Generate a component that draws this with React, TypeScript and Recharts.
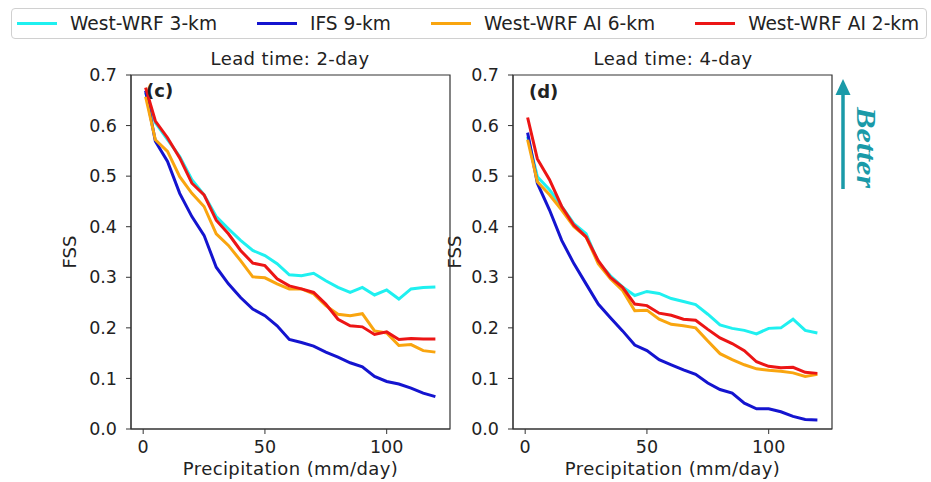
import React from 'react';
import { LineChart, Line, XAxis, YAxis, ReferenceArea } from 'recharts';

// precipitation thresholds (mm/day)
const precip = [1, 5, 10, 15, 20, 25, 30, 35, 40, 45, 50, 55, 60, 65, 70, 75, 80, 85, 90, 95, 100, 105, 110, 115, 120];

// lead time 2-day
const wrf3km2d = [0.665, 0.606, 0.572, 0.539, 0.493, 0.463, 0.42, 0.396, 0.373, 0.353, 0.343, 0.327, 0.305, 0.303, 0.308, 0.293, 0.28, 0.27, 0.28, 0.265, 0.275, 0.257, 0.277, 0.28, 0.281];
const ifs9km2d = [0.669, 0.569, 0.529, 0.466, 0.42, 0.383, 0.32, 0.287, 0.26, 0.237, 0.224, 0.204, 0.177, 0.171, 0.164, 0.152, 0.142, 0.131, 0.123, 0.104, 0.094, 0.089, 0.081, 0.071, 0.064];
const ai6km2d = [0.657, 0.572, 0.549, 0.499, 0.466, 0.44, 0.386, 0.363, 0.333, 0.301, 0.299, 0.287, 0.277, 0.277, 0.267, 0.244, 0.227, 0.224, 0.228, 0.194, 0.19, 0.165, 0.167, 0.155, 0.152];
const ai2km2d = [0.675, 0.609, 0.576, 0.536, 0.486, 0.463, 0.413, 0.386, 0.353, 0.328, 0.323, 0.297, 0.283, 0.277, 0.27, 0.247, 0.217, 0.204, 0.202, 0.187, 0.192, 0.177, 0.179, 0.178, 0.178];

// lead time 4-day
const wrf3km4d = [0.578, 0.499, 0.473, 0.44, 0.406, 0.386, 0.33, 0.303, 0.281, 0.264, 0.272, 0.268, 0.258, 0.252, 0.246, 0.227, 0.206, 0.199, 0.195, 0.188, 0.199, 0.2, 0.217, 0.195, 0.19];
const ifs9km4d = [0.586, 0.486, 0.433, 0.373, 0.327, 0.287, 0.247, 0.22, 0.194, 0.166, 0.155, 0.137, 0.127, 0.117, 0.108, 0.091, 0.078, 0.071, 0.051, 0.04, 0.04, 0.034, 0.025, 0.019, 0.018];
const ai6km4d = [0.572, 0.489, 0.463, 0.433, 0.4, 0.38, 0.327, 0.297, 0.274, 0.234, 0.235, 0.217, 0.207, 0.204, 0.2, 0.174, 0.149, 0.137, 0.127, 0.119, 0.116, 0.114, 0.111, 0.104, 0.108];
const ai2km4d = [0.616, 0.534, 0.493, 0.44, 0.403, 0.38, 0.333, 0.3, 0.28, 0.247, 0.244, 0.229, 0.225, 0.217, 0.215, 0.197, 0.18, 0.169, 0.155, 0.133, 0.124, 0.121, 0.122, 0.112, 0.11];

const yTicks = [0, 0.1, 0.2, 0.3, 0.4, 0.5, 0.6, 0.7];
const xTicks = [0, 50, 100];

const seriesNames = ['West-WRF 3-km', 'IFS 9-km', 'West-WRF AI 6-km', 'West-WRF AI 2-km'];
const seriesKeys = ['wrf3', 'ifs9', 'ai6', 'ai2'];
const colors = ['#1ff0f0', '#1414cf', '#f9a50f', '#ec1515'];

const FONT = '"DejaVu Sans", sans-serif';
const INK = '#222';

const buildRows = (a: number[], b: number[], c: number[], d: number[]) =>
    precip.map((p, i) => ({ p, wrf3: a[i], ifs9: b[i], ai6: c[i], ai2: d[i] }));

const rows2d = buildRows(wrf3km2d, ifs9km2d, ai6km2d, ai2km2d);
const rows4d = buildRows(wrf3km4d, ifs9km4d, ai6km4d, ai2km4d);

type PanelProps = { data: any[]; width: number; yAxisWidth: number; marginLeft: number; marginRight: number };

const Panel = ({ data, width, yAxisWidth, marginLeft, marginRight }: PanelProps) => (
    <LineChart
        width={width}
        height={482}
        data={data}
        margin={{ top: 75, right: marginRight, bottom: 0, left: marginLeft }}
        style={{ fontFamily: FONT }}
    >
        <XAxis
            dataKey="p"
            type="number"
            domain={[-5, 126]}
            ticks={xTicks}
            allowDataOverflow
            height={53}
            tickSize={5}
            tickMargin={7}
            axisLine={{ stroke: '#333' }}
            tickLine={{ stroke: '#333' }}
            tick={{ fontSize: 17.5, fill: INK }}
            label={{ value: 'Precipitation (mm/day)', position: 'insideBottom', offset: 7, fontSize: 18, letterSpacing: 0.4, fill: INK }}
        />
        <YAxis
            type="number"
            domain={[0, 0.7]}
            ticks={yTicks}
            allowDataOverflow
            width={yAxisWidth}
            tickSize={5}
            tickMargin={9}
            tickFormatter={(v: number) => v.toFixed(1)}
            axisLine={{ stroke: '#333' }}
            tickLine={{ stroke: '#333' }}
            tick={{ fontSize: 17.5, fill: INK }}
            label={{ value: 'FSS', angle: -90, position: 'center', fontSize: 18, fill: INK }}
        />
        <ReferenceArea x1={-5} x2={126} y1={0} y2={0.7} fill="none" stroke="#333" strokeWidth={1.2} ifOverflow="visible" />
        {seriesKeys.map((k, i) => (
            <Line
                key={k}
                dataKey={k}
                name={seriesNames[i]}
                type="linear"
                stroke={colors[i]}
                strokeWidth={3}
                dot={false}
                isAnimationActive={false}
            />
        ))}
    </LineChart>
);

const Legend = () => (
    <div
        style={{
            position: 'absolute',
            left: 11,
            top: 8,
            width: 916,
            height: 31,
            border: '1px solid #d0d0d0',
            borderRadius: 4,
            display: 'flex',
            alignItems: 'center',
            fontFamily: FONT,
            fontSize: 18.6,
            color: INK,
            boxSizing: 'border-box',
            paddingLeft: 5,
        }}
    >
        {seriesNames.map((n, i) => (
            <div key={n} style={{ display: 'flex', alignItems: 'center', marginRight: 40 }}>
                <div style={{ width: 40, height: 3, background: colors[i], marginRight: 13 }} />
                <span style={{ whiteSpace: 'nowrap' }}>{n}</span>
            </div>
        ))}
    </div>
);

const textAbs = (left: number, top: number, extra: React.CSSProperties = {}): React.CSSProperties => ({
    position: 'absolute',
    left,
    top,
    fontFamily: FONT,
    fontSize: 18,
    color: INK,
    whiteSpace: 'nowrap',
    lineHeight: '20px',
    ...extra,
});

export default function App() {
    return (
        <div style={{ position: 'absolute', left: 0, top: 0, width: 931, height: 482, background: '#fff', overflow: 'hidden' }}>
            <Legend />
            <div style={{ position: 'absolute', left: 0, top: 0 }}>
                <Panel data={rows2d} width={470} yAxisWidth={122} marginLeft={9} marginRight={20} />
            </div>
            <div style={{ position: 'absolute', left: 397, top: 0 }}>
                <Panel data={rows4d} width={460} yAxisWidth={116} marginLeft={0} marginRight={25} />
            </div>
            <div style={textAbs(190, 49, { width: 200, textAlign: 'center', letterSpacing: 0.4 })}>Lead time: 2-day</div>
            <div style={textAbs(573, 49, { width: 200, textAlign: 'center', letterSpacing: 0.4 })}>Lead time: 4-day</div>
            <div style={textAbs(146, 81, { fontWeight: 'bold' })}>(c)</div>
            <div style={textAbs(529, 82, { fontWeight: 'bold' })}>(d)</div>
            <svg width={931} height={482} style={{ position: 'absolute', left: 0, top: 0, pointerEvents: 'none' }}>
                <line x1={843} y1={189} x2={843} y2={94} stroke="#1a9aa8" strokeWidth={3.5} />
                <polygon points="835.5,95 850.5,95 843,79" fill="#1a9aa8" />
                <text
                    transform="translate(857,147.5) rotate(90)"
                    textAnchor="middle"
                    fontFamily='"Liberation Serif", serif'
                    fontWeight="bold"
                    fontStyle="italic"
                    fontSize={27}
                    fill="#1a9aa8"
                    textLength={81}
                    lengthAdjust="spacingAndGlyphs"
                >
                    Better
                </text>
            </svg>
        </div>
    );
}
